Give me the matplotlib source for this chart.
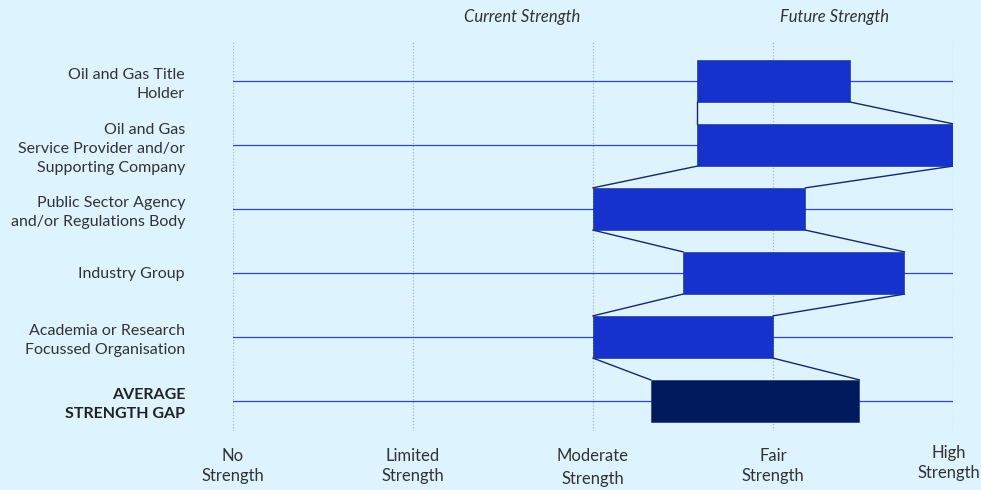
import matplotlib.pyplot as plt
from matplotlib.transforms import ScaledTranslation

plt.rcParams['font.family'] = ['Lato', 'DejaVu Sans']

categories = [
    "Oil and Gas Title\nHolder",
    "Oil and Gas\nService Provider and/or\nSupporting Company",
    "Public Sector Agency\nand/or Regulations Body",
    "Industry Group",
    "Academia or Research\nFocussed Organisation",
    "AVERAGE\nSTRENGTH GAP",
]
current = [2.58, 2.58, 2.0, 2.5, 2.0, 2.32]
future = [3.43, 4.0, 3.18, 3.73, 3.0, 3.48]
levels = ["No\nStrength", "Limited\nStrength", "Moderate\nStrength", "Fair\nStrength", "High\nStrength"]

bg = "#ddf3fd"
bar_c = "#1533cc"
avg_c = "#011a5e"
line_c = "#2a48d0"
edge_c = "#14286e"
text_c = "#333333"
h = 0.66

fig = plt.figure(figsize=(9.81, 4.90), dpi=100, facecolor=bg)
ax = fig.add_axes([233 / 981, 1 - 431 / 490, 720 / 981, 389 / 490])
ax.set_facecolor(bg)

n = len(categories)
ax.set_xlim(0, 4)
ax.set_ylim(5.469, -0.609)

# dotted verticals at each strength level
for i in range(len(levels)):
    ax.axvline(i, color="#a9b4bf", lw=0.9, ls=(0, (1, 1.5)), zorder=0)

# row baselines
for i in range(n):
    ax.plot([0, 4], [i, i], color=line_c, lw=0.9, zorder=1)

# bars from current to future strength
for i in range(n):
    c = avg_c if i == n - 1 else bar_c
    ax.barh(i, future[i] - current[i], left=current[i], height=h,
            color=c, edgecolor=edge_c, lw=0.4, zorder=2)

# connectors between consecutive bars
for i in range(n - 1):
    ax.plot([current[i], current[i + 1]], [i + h / 2, i + 1 - h / 2],
            color=edge_c, lw=1.0, zorder=1.5)
    ax.plot([future[i], future[i + 1]], [i + h / 2, i + 1 - h / 2],
            color=edge_c, lw=1.0, zorder=1.5)

ax.set_yticks(range(n))
ax.set_yticklabels(categories, fontsize=11.5, color=text_c, linespacing=1.45)
ylabs = ax.get_yticklabels()
ylabs[-1].set_fontweight("bold")
ylabs[-1].set_color("#222222")
# nudge the first two labels up a little
for lab, dy in zip(ylabs[:2], [4, 6]):
    lab.set_transform(lab.get_transform() + ScaledTranslation(0, dy / 100, fig.dpi_scale_trans))
ax.tick_params(axis="y", length=0, pad=34.5)

ax.set_xticks(range(len(levels)))
ax.set_xticklabels(levels, fontsize=12, color=text_c, linespacing=1.3)
ax.tick_params(axis="x", length=0, pad=12)
xlabs = ax.get_xticklabels()
xlabs[2].set_linespacing(1.55)
xlabs[-1].set_transform(xlabs[-1].get_transform() + ScaledTranslation(-4 / 100, 3 / 100, fig.dpi_scale_trans))

for s in ax.spines.values():
    s.set_visible(False)

fig.text(522 / 981, 1 - 17 / 490, "Current Strength", ha="center", va="center",
         fontsize=12, style="italic", color=text_c)
fig.text(835 / 981, 1 - 17 / 490, "Future Strength", ha="center", va="center",
         fontsize=12, style="italic", color=text_c)

fig.savefig("out.png", dpi=100, facecolor=bg)
